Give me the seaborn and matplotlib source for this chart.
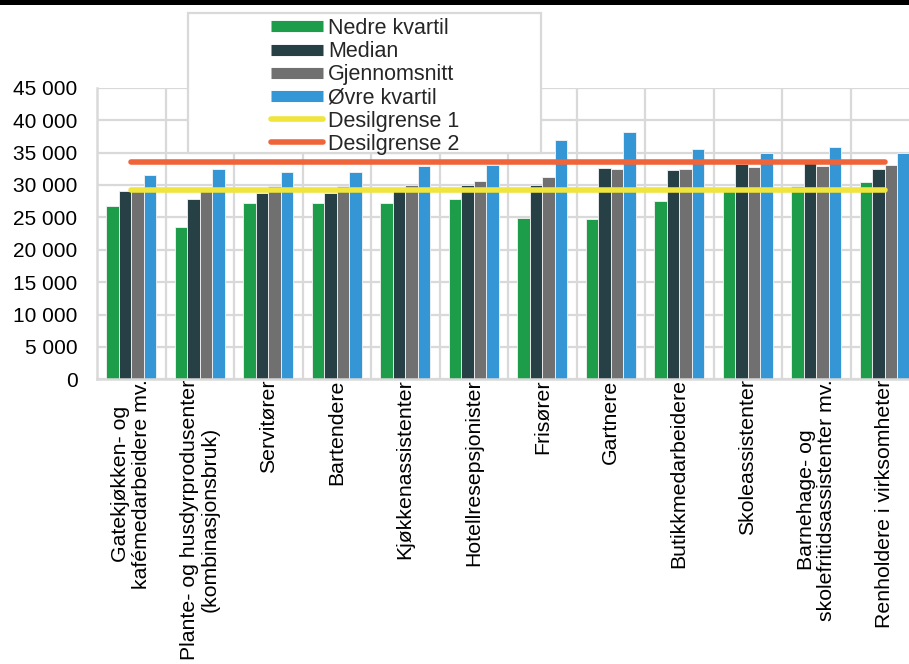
import matplotlib
matplotlib.use("Agg")
import matplotlib.pyplot as plt
from matplotlib.patches import Rectangle
from matplotlib.lines import Line2D
from matplotlib.ticker import FuncFormatter, MultipleLocator, FixedLocator
import seaborn as sns
import pandas as pd

# Occupations on the category axis
yrker = [
    "Gatekjøkken- og\nkafémedarbeidere mv.",
    "Plante- og husdyrprodusenter\n(kombinasjonsbruk)",
    "Servitører",
    "Bartendere",
    "Kjøkkenassistenter",
    "Hotellresepsjonister",
    "Frisører",
    "Gartnere",
    "Butikkmedarbeidere",
    "Skoleassistenter",
    "Barnehage- og\nskolefritidsassistenter mv.",
    "Renholdere i virksomheter",
]

# Monthly earnings (NOK)
nedre_kvartil = [26700, 23450, 27200, 27200, 27200, 27800, 24950, 24750, 27560, 29200, 29830, 30400]
median = [29100, 27900, 28800, 28800, 29000, 29950, 29950, 32650, 32250, 33200, 33400, 32400]
gjennomsnitt = [29300, 29000, 29800, 29800, 29950, 30550, 31150, 32500, 32500, 32750, 32900, 33070]
ovre_kvartil = [31600, 32400, 31950, 32000, 32900, 33000, 36980, 38200, 35540, 34970, 35850, 34970]

# Decile thresholds drawn as lines across the categories
desilgrense_1 = [29200, 29200, 29200, 29200, 29200, 29200, 29200, 29200, 29200, 29200, 29200, 29200]
desilgrense_2 = [33600, 33600, 33600, 33600, 33600, 33600, 33600, 33600, 33600, 33600, 33600, 33600]

bar_series = ["Nedre kvartil", "Median", "Gjennomsnitt", "Øvre kvartil"]
line_series = ["Desilgrense 1", "Desilgrense 2"]
bar_colors = ["#1D9D4A", "#264046", "#707070", "#3496D4"]
line_colors = ["#EFE53C", "#F0643A"]

y_max = 45000
y_step = 5000

df = pd.DataFrame({
    "Yrke": yrker * 4,
    "Serie": sum([[s] * len(yrker) for s in bar_series], []),
    "Lønn": nedre_kvartil + median + gjennomsnitt + ovre_kvartil,
})

sns.set_theme(style="white")
plt.rcParams["font.family"] = ["Liberation Sans", "DejaVu Sans"]

W, H = 909, 664
fig = plt.figure(figsize=(W / 100, H / 100), dpi=100)
ax = fig.add_axes([97 / W, (H - 379.3) / H, 822 / W, 291.6 / H])

sns.barplot(
    data=df, x="Yrke", y="Lønn", hue="Serie", hue_order=bar_series,
    palette=bar_colors, saturation=1, width=0.73, edgecolor="#f4f4f4",
    linewidth=0.6, legend=False, ax=ax, zorder=2,
)

xpos = list(range(len(yrker)))
for vals, col in zip([desilgrense_1, desilgrense_2], line_colors):
    ax.plot(xpos, vals, color=col, lw=4.0, solid_capstyle="round", zorder=3)

ax.set_xlim(-0.5, len(yrker) - 0.5)
ax.set_ylim(0, y_max)
ax.yaxis.set_major_locator(MultipleLocator(y_step))
ax.yaxis.set_major_formatter(FuncFormatter(lambda v, p: f"{v:,.0f}".replace(",", " ")))
ax.xaxis.set_minor_locator(FixedLocator([i + 0.5 for i in range(len(yrker))]))

grid_col = "#D9D9D9"
ax.set_axisbelow(True)
ax.grid(axis="y", which="major", color=grid_col, lw=1.6)
ax.grid(axis="x", which="minor", color=grid_col, lw=1.6)
ax.grid(axis="x", which="major", visible=False)
for side in ["top", "right"]:
    ax.spines[side].set_visible(False)
for side in ["left", "bottom"]:
    ax.spines[side].set_color(grid_col)
    ax.spines[side].set_linewidth(1.8)

ax.set_xlabel("")
ax.set_ylabel("")
ax.tick_params(axis="y", length=0, pad=14, labelsize=15, labelcolor="black")
ax.tick_params(axis="x", which="both", length=0, pad=0, labelsize=15.3, labelcolor="black")
for lab in ax.get_xticklabels():
    lab.set_rotation(90)
    lab.set_ha("center")
    lab.set_va("top")
    lab.set_multialignment("center")
    lab.set_linespacing(1.1)

# Legend box
fig.patches.append(Rectangle((188 / W, (H - 153) / H), 353 / W, 140 / H,
                             transform=fig.transFigure, facecolor="white",
                             edgecolor=grid_col, lw=1.6, zorder=5))
handles = [Line2D([], [], color=c, lw=8, solid_capstyle="butt") for c in bar_colors]
handles += [Line2D([], [], color=c, lw=4.0, solid_capstyle="round") for c in line_colors]
leg = fig.legend(handles, bar_series + line_series, loc="upper left",
                 bbox_to_anchor=(271 / W, 1 - 18 / H), bbox_transform=fig.transFigure,
                 frameon=False, fontsize=15.5, handlelength=2.42, handletextpad=0.23,
                 labelspacing=0.1, borderpad=0, borderaxespad=0)
leg.set_zorder(6)

# Dark band along the top edge
fig.patches.append(Rectangle((0, 1 - 5 / H), 1, 5 / H, transform=fig.transFigure,
                             facecolor="black", edgecolor="none", zorder=7))

fig.savefig("out.png", dpi=100)
